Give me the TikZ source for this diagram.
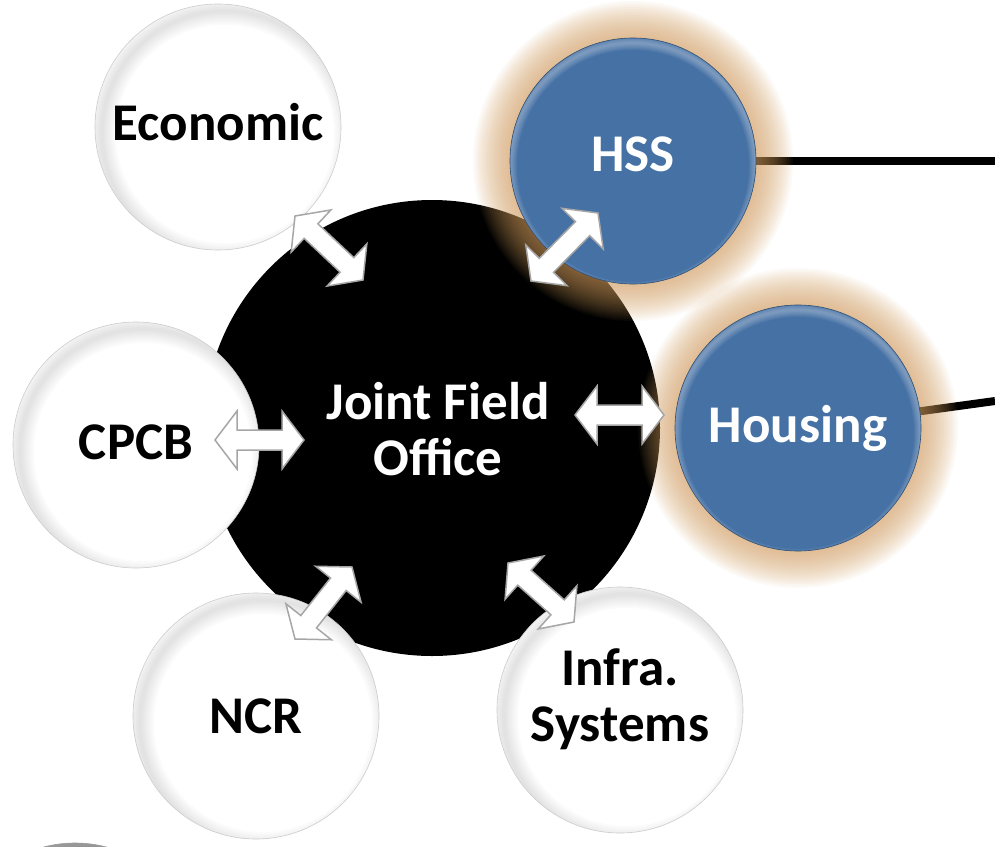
\documentclass[tikz,border=0pt]{standalone}
\usepackage{fontspec}
\setmainfont{Carlito}
\usetikzlibrary{calc}

\definecolor{discblue}{RGB}{69,113,165}
\definecolor{glowtan}{RGB}{214,160,98}

\newcommand\discfont{\fontsize{53}{56}\selectfont\bfseries}

% double block arrow between two named points
\newcommand{\linkarrow}[2]{%
  \coordinate (la) at ($(#1)!22pt!(#2)$);
  \coordinate (lb) at ($(#2)!22pt!(#1)$);
  \draw[link] (#1) -- ($(la)!29pt!90:(#2)$) -- ($(la)!10pt!90:(#2)$)
    -- ($(lb)!10pt!-90:(#1)$) -- ($(lb)!29pt!-90:(#1)$) -- (#2)
    -- ($(lb)!29pt!90:(#1)$) -- ($(lb)!10pt!90:(#1)$)
    -- ($(la)!10pt!-90:(#2)$) -- ($(la)!29pt!-90:(#2)$) -- cycle;}

\begin{document}
\begin{tikzpicture}[x=1pt,y=-1pt,
    whitedisc/.style={circle, minimum size=246pt, inner sep=0pt, fill=white, draw=black!20, line width=0.6pt, font=\discfont, align=center,
      path picture={\foreach \w in {4,8,...,28}
        \draw[black, opacity=0.016, line width=\w pt] ([shift={(7pt,-7pt)}]path picture bounding box.center) circle (123pt);}},
    bluedisc/.style={circle, minimum size=246pt, inner sep=0pt, fill=discblue, draw=discblue!70!black, line width=0.6pt, font=\discfont, align=center, text=white,
      path picture={\foreach \w in {2,4,...,14}
        \draw[white, opacity=0.05, line width=\w pt] ([shift={(0pt,-5pt)}]path picture bounding box.center) circle (123pt);}},
    hubdisc/.style={circle, minimum size=456pt, inner sep=0pt, fill=black},
    hubtext/.style={font=\discfont, align=center, text=white},
    lift/.style={text depth=#1},
    link/.style={draw=gray!70, fill=white, line width=1.5pt, line join=miter},
    tie/.style={line width=8pt}]
	\useasboundingbox[fill=white] (0,0) rectangle (995,846);
	% Centres and line ends
	\coordinate (hsspos) at (633,161);
	\coordinate (hsgpos) at (798,428);
	\coordinate (hssend) at (995,161);
	\coordinate (hsgend) at (995,401);
	% Lines to the right
	\draw[tie] (hsspos) -- (hssend);
	\draw[tie] (hsgpos) -- (hsgend);
	% Hub
	\node[hubdisc] (jfo) at (432,428) {};
	\node[hubtext] (jfotext) at (438,429) {Joint Field\\Office};
	% Glow
	\foreach \r in {160,158,...,124} {
		\fill[glowtan, opacity=0.05] (hsspos) circle (\r pt);
		\fill[glowtan, opacity=0.05] (hsgpos) circle (\r pt);
	}
	% Discs
	\node[bluedisc, lift=14pt] (hss) at (hsspos) {HSS};
	\node[bluedisc] (hsg) at (hsgpos) {Housing};
	\node[whitedisc, lift=10pt] (eco) at (218,127) {Economic};
	\node[whitedisc, lift=6pt] (cpcb) at (136,445) {CPCB};
	\node[whitedisc] (ncr) at (256,716) {NCR};
	\node[whitedisc, lift=29pt] (infra) at (620,710) {Infra.\\Systems};
	\node[whitedisc, fill=black!35, draw=black!40] (more) at (75,966) {};
	% Arrows
	\coordinate (ecoA) at (295,216); \coordinate (ecoB) at (363,280);
	\coordinate (hssA) at (531,281); \coordinate (hssB) at (598,213);
	\coordinate (cpA) at (215,440); \coordinate (cpB) at (304,440);
	\coordinate (hsgA) at (575,415); \coordinate (hsgB) at (664,415);
	\coordinate (ncrA) at (295,639); \coordinate (ncrB) at (352,567);
	\coordinate (infA) at (508,563); \coordinate (infB) at (574,622);
	\linkarrow{ecoA}{ecoB}
	\linkarrow{hssA}{hssB}
	\linkarrow{cpA}{cpB}
	\linkarrow{hsgA}{hsgB}
	\linkarrow{ncrA}{ncrB}
	\linkarrow{infA}{infB}
\end{tikzpicture}
\end{document}
